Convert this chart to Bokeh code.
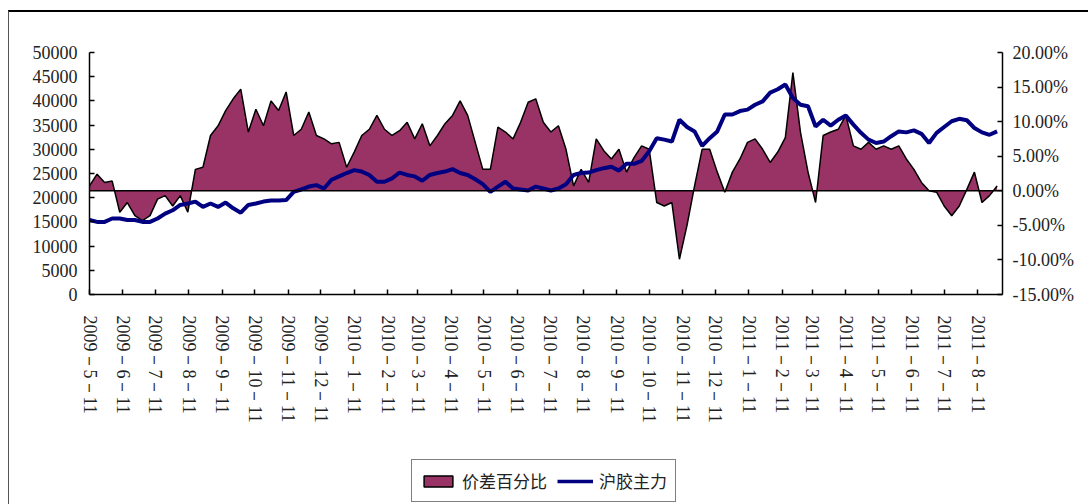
import pandas as pd
from datetime import datetime
from bokeh.plotting import figure
from bokeh.layouts import column
from bokeh.models import (Range1d, LinearAxis, FixedTicker, CustomJSTickFormatter,
                          PrintfTickFormatter, Span, Legend, LegendItem, ColumnDataSource)
from bokeh.embed import file_html
from bokeh.resources import INLINE

# ---------------- data (weekly readings) ----------------
start_date = "2009-05-11"
n_weeks = 121
spread_name = "价差百分比"
price_name = "沪胶主力"

spread_pct = [
    0.7, 2.4, 1.2, 1.4, -3.1, -1.7, -3.6, -4.3, -3.6, -1.2,
    -0.7, -2.2, -0.7, -3.1, 3.1, 3.4, 8.0, 9.4, 11.6, 13.3,
    14.7, 8.5, 11.8, 9.4, 13.0, 11.6, 14.3, 8.0, 8.9, 11.4,
    8.0, 7.5, 6.8, 7.0, 3.4, 5.6, 8.0, 8.9, 10.9, 8.9,
    8.0, 8.7, 9.9, 7.5, 9.7, 6.5, 8.0, 9.7, 10.9, 13.0,
    10.9, 7.0, 3.1, 3.1, 9.2, 8.5, 7.5, 9.9, 12.8, 13.3,
    9.9, 8.5, 9.4, 6.0, 0.7, 3.1, 1.2, 7.5, 5.8, 4.6,
    6.0, 2.7, 4.8, 6.5, 6.0, -1.7, -2.2, -1.7, -9.9, -5.0,
    0.7, 6.0, 6.0, 2.7, -0.2, 2.7, 4.6, 7.0, 7.5, 6.0,
    4.1, 5.6, 7.7, 17.1, 8.5, 2.7, -1.7, 8.0, 8.5, 8.9,
    10.9, 6.5, 6.0, 7.0, 6.0, 6.5, 6.0, 6.5, 4.6, 3.1,
    1.2, 0.0, -0.2, -2.2, -3.6, -2.2, 0.2, 2.7, -1.7, -0.7,
    0.7,
]

price = [
    15400, 15000, 15000, 15700, 15700, 15400, 15400, 15000, 15000, 15700,
    16700, 17400, 18500, 18800, 19200, 18100, 18800, 18100, 19000, 17800,
    16900, 18500, 18800, 19200, 19400, 19400, 19500, 21200, 21700, 22300,
    22600, 21900, 23700, 24400, 25100, 25700, 25400, 24700, 23300, 23300,
    24000, 25200, 24700, 24400, 23500, 24700, 25100, 25400, 25900, 25100,
    24700, 23800, 22800, 21200, 22300, 23300, 21900, 21700, 21500, 22300,
    21900, 21500, 21900, 22800, 24700, 25100, 25200, 25700, 26100, 26400,
    25600, 27000, 27000, 27600, 29600, 32300, 32000, 31600, 36100, 34600,
    33700, 30700, 32300, 33700, 37200, 37200, 37900, 38200, 39200, 39900,
    41700, 42400, 43400, 40600, 39200, 38900, 34700, 36100, 34900, 36100,
    37000, 35100, 33400, 32000, 31300, 31600, 32700, 33700, 33500, 33900,
    33200, 31300, 33400, 34600, 35800, 36300, 36000, 34400, 33500, 33000,
    33700,
]

left_ticks = [0, 5000, 10000, 15000, 20000, 25000, 30000, 35000, 40000, 45000, 50000]
right_ticks = [-15, -10, -5, 0, 5, 10, 15, 20]

dates = pd.date_range(start_date, periods=n_weeks, freq="7D")
src = ColumnDataSource(dict(date=dates, spread=spread_pct, price=price,
                            zero=[0.0] * n_weeks))

tick_dates = pd.date_range("2009-05-01", "2011-08-01", freq="MS") + pd.Timedelta(days=10)
tick_ms = [int(d.value // 10**6) for d in tick_dates]

# ---------------- figure ----------------
FONT = "Liberation Serif"
CJK = "Noto Sans CJK SC"
TXT = "#222222"
MAROON = "#993366"
NAVY = "#000080"

p = figure(width=1079, height=433, x_axis_type="datetime",
           x_range=Range1d(datetime(2009, 5, 11), datetime(2011, 9, 3)),
           y_range=Range1d(0, 50000),
           output_backend="svg", toolbar_location=None,
           min_border_left=80, min_border_right=86, min_border_top=40,
           min_border_bottom=151)
p.extra_y_ranges = {"pct": Range1d(-15, 20)}
p.outline_line_color = None
p.xgrid.visible = False
p.ygrid.visible = False
p.background_fill_color = "white"
p.border_fill_color = "white"

# area (spread) on right axis
p.varea(x="date", y1="zero", y2="spread", source=src, y_range_name="pct",
        fill_color=MAROON)
p.line(x="date", y="spread", source=src, y_range_name="pct",
       line_color="black", line_width=1.5)

# zero line
p.add_layout(Span(location=0, dimension="width", y_range_name="pct",
                  line_color="black", line_width=1.5))

# price line
p.line(x="date", y="price", source=src, line_color=NAVY, line_width=4)

# axes
def style_axis(ax):
    ax.axis_line_color = "black"
    ax.axis_line_width = 1.5
    ax.major_tick_line_color = "black"
    ax.major_tick_line_width = 1.5
    ax.major_tick_in = 5
    ax.major_tick_out = 0
    ax.minor_tick_line_color = None
    ax.major_label_text_font = FONT
    ax.major_label_text_font_size = "18px"
    ax.major_label_text_color = TXT

yl = p.yaxis[0]
yl.ticker = FixedTicker(ticks=left_ticks)
yl.formatter = PrintfTickFormatter(format="%d")
yl.major_label_standoff = 12
style_axis(yl)

yr = LinearAxis(y_range_name="pct", ticker=FixedTicker(ticks=right_ticks),
                formatter=PrintfTickFormatter(format="%.2f%%"))
style_axis(yr)
yr.major_label_standoff = 10
p.add_layout(yr, "right")

xa = p.xaxis[0]
xa.ticker = FixedTicker(ticks=tick_ms)
xa.formatter = CustomJSTickFormatter(code="""
const d = new Date(tick);
return d.getUTCFullYear() + "－" + (d.getUTCMonth() + 1) + "－" + d.getUTCDate();
""")
style_axis(xa)
xa.major_label_orientation = "vertical"
xa.major_label_standoff = 21

# ---------------- legend strip ----------------
lg = figure(width=1079, height=59, x_range=Range1d(0, 1), y_range=Range1d(0, 1),
            output_backend="svg", toolbar_location=None,
            min_border_left=0, min_border_right=0, min_border_top=0,
            min_border_bottom=0)
lg.axis.visible = False
lg.xgrid.visible = False
lg.ygrid.visible = False
lg.outline_line_color = None
lg.background_fill_color = "white"
lg.border_fill_color = "white"

nan = float("nan")
proxy_area = lg.quad(left=[nan], right=[nan], top=[nan], bottom=[nan],
                     fill_color=MAROON, line_color="black", line_width=1.5)
proxy_line = lg.line(x=[nan, nan], y=[nan, nan], line_color=NAVY, line_width=3.5)

legend = Legend(items=[LegendItem(label=spread_name, renderers=[proxy_area]),
                       LegendItem(label=price_name, renderers=[proxy_line])],
                orientation="horizontal", location=(322, 2))
legend.label_text_font = CJK
legend.label_text_font_size = "17px"
legend.label_text_color = TXT
legend.glyph_width = 36
legend.glyph_height = 14
legend.label_standoff = 6
legend.spacing = 10
legend.padding = 8
legend.margin = 0
legend.border_line_color = "black"
legend.border_line_width = 1.5
legend.background_fill_color = "white"
lg.add_layout(legend, "center")

layout = column(p, lg, spacing=0,
                styles={"margin-left": "8px", "margin-top": "10px",
                        "border-top": "2px solid #000000",
                        "border-left": "1px solid #555555"})

open("out.html", "w").write(file_html(layout, INLINE))
